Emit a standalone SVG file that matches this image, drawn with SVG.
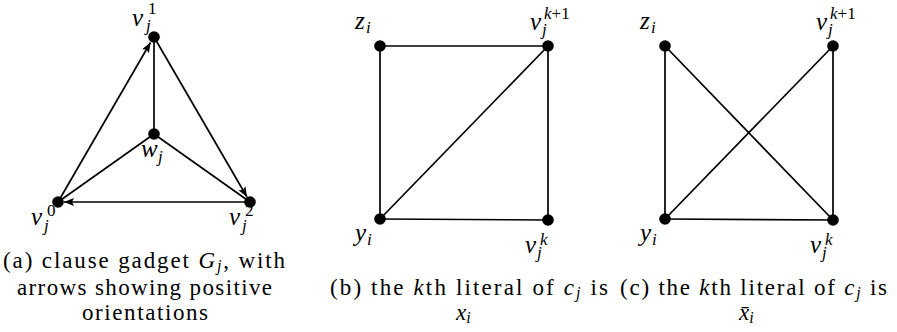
<svg xmlns="http://www.w3.org/2000/svg" width="897" height="332" viewBox="0 0 897 332" font-family="'Liberation Serif', 'DejaVu Serif', serif">
<style>
.e{stroke:#000;stroke-width:1.7;fill:none}
.n{fill:#000}
.m{font-style:italic;font-size:25px}
.s{font-style:italic;font-size:17px}
.u{font-size:17px}
.c{font-size:23px}
.ci{font-style:italic}
</style>
<defs>
<marker id="ah" markerUnits="userSpaceOnUse" markerWidth="12" markerHeight="10" refX="10" refY="4" orient="auto">
<path d="M0,0 L10,4 L0,8 L2,4 Z" fill="#000"/>
</marker>
</defs>
<g id="connectors">
<line class="e" x1="58" y1="202" x2="150.5" y2="42.5" marker-end="url(#ah)"/>
<line class="e" x1="154" y1="37" x2="247" y2="197" marker-end="url(#ah)"/>
<line class="e" x1="250" y1="202" x2="64" y2="202" marker-end="url(#ah)"/>
<line class="e" x1="154" y1="37" x2="154" y2="134"/>
<line class="e" x1="154" y1="134" x2="58" y2="202"/>
<line class="e" x1="154" y1="134" x2="250" y2="202"/>
<line class="e" x1="380" y1="46" x2="548" y2="46"/>
<line class="e" x1="380" y1="46" x2="380" y2="219"/>
<line class="e" x1="380" y1="219" x2="548" y2="220"/>
<line class="e" x1="548" y1="46" x2="548" y2="220"/>
<line class="e" x1="380" y1="219" x2="548" y2="46"/>
<line class="e" x1="665" y1="46" x2="665" y2="219"/>
<line class="e" x1="665" y1="219" x2="833" y2="220"/>
<line class="e" x1="833" y1="46" x2="833" y2="220"/>
<line class="e" x1="665" y1="219" x2="833" y2="46"/>
<line class="e" x1="665" y1="46" x2="833" y2="220"/>
</g>
<g id="a-v1"><circle class="n" cx="154" cy="37" r="5.8"/><text class="m" x="132" y="26">v</text><text class="u" x="148" y="14">1</text><text class="s" x="146" y="31">j</text></g>
<g id="a-w"><circle class="n" cx="154" cy="134" r="5.8"/><text class="m" x="141" y="157">w</text><text class="s" x="158" y="162">j</text></g>
<g id="a-v0"><circle class="n" cx="58" cy="202" r="5.8"/><text class="m" x="31" y="225">v</text><text class="u" x="47" y="216">0</text><text class="s" x="44" y="231">j</text></g>
<g id="a-v2"><circle class="n" cx="250" cy="202" r="5.8"/><text class="m" x="229" y="225">v</text><text class="u" x="245" y="216">2</text><text class="s" x="242" y="231">j</text></g>
<g id="b-z"><circle class="n" cx="380" cy="46" r="5.8"/><text class="m" x="355" y="29">z</text><text class="s" x="366" y="33">i</text></g>
<g id="b-vk1"><circle class="n" cx="548" cy="46" r="5.8"/><text class="m" x="530" y="30">v</text><text class="u" x="544" y="19"><tspan class="ci">k</tspan>+1</text><text class="s" x="542" y="35">j</text></g>
<g id="b-y"><circle class="n" cx="380" cy="219" r="5.8"/><text class="m" x="355" y="241">y</text><text class="s" x="367" y="245">i</text></g>
<g id="b-vk"><circle class="n" cx="548" cy="220" r="5.8"/><text class="m" x="525" y="253">v</text><text class="s" x="540" y="245">k</text><text class="s" x="537" y="258">j</text></g>
<g id="c-z"><circle class="n" cx="665" cy="46" r="5.8"/><text class="m" x="640" y="29">z</text><text class="s" x="651" y="33">i</text></g>
<g id="c-vk1"><circle class="n" cx="833" cy="46" r="5.8"/><text class="m" x="816" y="30">v</text><text class="u" x="830" y="19"><tspan class="ci">k</tspan>+1</text><text class="s" x="828" y="35">j</text></g>
<g id="c-y"><circle class="n" cx="665" cy="219" r="5.8"/><text class="m" x="640" y="241">y</text><text class="s" x="652" y="245">i</text></g>
<g id="c-vk"><circle class="n" cx="833" cy="220" r="5.8"/><text class="m" x="810" y="253">v</text><text class="s" x="825" y="245">k</text><text class="s" x="822" y="258">j</text></g>
<g id="captions">
<text class="c" x="3" y="268" textLength="282">(a) clause gadget <tspan class="ci">G</tspan><tspan class="ci" font-size="16" dy="3">j</tspan><tspan dy="-3">, with</tspan></text>
<text class="c" x="17" y="295" textLength="255">arrows showing positive</text>
<text class="c" x="82" y="320" textLength="126">orientations</text>
<text class="c" x="330" y="295" textLength="278">(b) the <tspan class="ci">k</tspan>th literal of <tspan class="ci">c</tspan><tspan class="ci" font-size="16" dy="3">j</tspan><tspan dy="-3"> is</tspan></text>
<text class="c" x="456" y="320"><tspan class="ci">x</tspan><tspan class="ci" font-size="16" dy="3">i</tspan></text>
<text class="c" x="620" y="295" textLength="267">(c) the <tspan class="ci">k</tspan>th literal of <tspan class="ci">c</tspan><tspan class="ci" font-size="16" dy="3">j</tspan><tspan dy="-3"> is</tspan></text>
<text class="c" x="739" y="320"><tspan class="ci">x̄</tspan><tspan class="ci" font-size="16" dy="3">i</tspan></text>
</g>
</svg>
